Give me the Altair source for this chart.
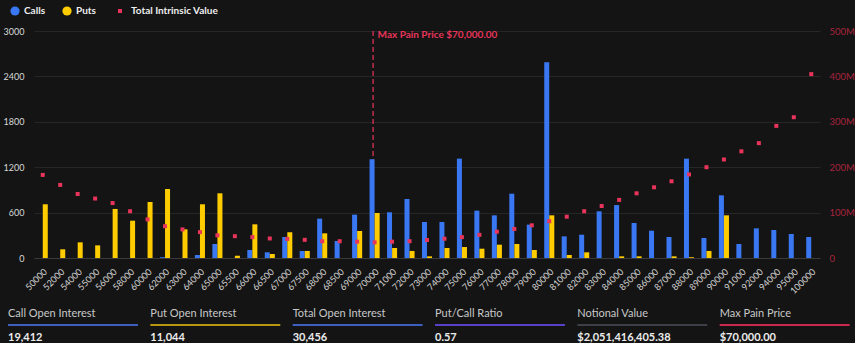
import altair as alt
import pandas as pd

FONT = "Lato"

strikes = ["50000", "52000", "54000", "55000", "56000", "58000", "60000", "62000", "63000", "64000",
           "65000", "65500", "66000", "66500", "67000", "67500", "68000", "68500", "69000", "70000",
           "71000", "72000", "73000", "74000", "75000", "76000", "77000", "78000", "79000", "80000",
           "81000", "82000", "83000", "84000", "85000", "86000", "87000", "88000", "89000", "90000",
           "91000", "92000", "94000", "95000", "100000"]
calls = [0, 0, 0, 0, 0, 0, 0, 10, 0, 40,
         185, 0, 106, 75, 278, 93, 520, 225, 573, 1305,
         604, 780, 476, 476, 1313, 626, 564, 850, 441, 2587,
         286, 308, 617, 700, 463, 361, 278, 1313, 264, 828,
         185, 392, 370, 317, 278]
puts = [710, 115, 207, 167, 648, 493, 740, 912, 379, 710,
        855, 30, 445, 53, 340, 93, 326, 0, 357, 595,
        132, 93, 22, 132, 145, 123, 176, 185, 106, 564,
        40, 75, 0, 22, 22, 0, 22, 10, 93, 564,
        0, 0, 0, 0, 0]
intrinsic_m = [183, 161, 141, 131, 121, 103, 85, 70, 63, 57,
               50, 48, 46, 43, 42, 40, 37, 37, 36, 34.5,
               36, 37, 39.6, 42.5, 46, 51, 58, 64, 72, 81,
               91, 103, 114.5, 128, 142.5, 155.7, 169, 184, 200, 217,
               235, 253, 291, 310, 405]

max_pain_strike = "70000"
max_pain_label = "Max Pain Price $70,000.00"

stat_labels = ["Call Open Interest", "Put Open Interest", "Total Open Interest",
               "Put/Call Ratio", "Notional Value", "Max Pain Price"]
stat_values = ["19,412", "11,044", "30,456", "0.57", "$2,051,416,405.38", "$70,000.00"]
stat_colors = ["#3d5fc0", "#b8960f", "#3d5fc0", "#5b41c9", "#3c3f46", "#c9294b"]

BLUE = "#3a77f2"
YELLOW = "#ffcc00"
RED = "#e8345a"

rows = []
for s, c, p in zip(strikes, calls, puts):
    rows.append({"strike": s, "type": "Calls", "oi": c})
    rows.append({"strike": s, "type": "Puts", "oi": p})
bar_df = pd.DataFrame(rows)
bar_df = bar_df[bar_df["oi"] > 0]

tiv_df = pd.DataFrame({"strike": strikes, "tiv": intrinsic_m,
                       "series": ["Total Intrinsic Value"] * len(strikes)})
mp_df = pd.DataFrame({"strike": [max_pain_strike], "label": [max_pain_label]})

x_scale = alt.Scale(domain=strikes, paddingInner=0.42, paddingOuter=0.21)
x_axis = alt.Axis(title=None, labelAngle=-45, labelFontSize=9, labelColor="#d4d4d4",
                  labelFont=FONT, ticks=False, domainColor="#3a3a3a", labelPadding=9,
                  labelOverlap=False)
X = alt.X("strike:N", scale=x_scale, axis=x_axis, sort=strikes)

rule = alt.Chart(mp_df).mark_rule(stroke=RED, color=RED, strokeDash=[5, 3],
                                  strokeWidth=1.2, xOffset=-1.5).encode(x=X)
mp_text = alt.Chart(mp_df).mark_text(align="left", baseline="middle", dx=3, font=FONT,
                                     fontSize=10, fontWeight="bold", color=RED).encode(
    x=X, y=alt.value(4), text="label:N")

bars = alt.Chart(bar_df).mark_bar(width=5).encode(
    x=X,
    xOffset=alt.XOffset("type:N", scale=alt.Scale(domain=["Calls", "Puts"])),
    y=alt.Y("oi:Q", scale=alt.Scale(domain=[0, 3000]),
            axis=alt.Axis(title=None, values=[0, 600, 1200, 1800, 2400, 3000], orient="left",
                          format="d", grid=True, gridColor="#262626", domain=False, ticks=False,
                          labelPadding=10, labelColor="#d8d8d8", labelFontSize=9, labelFont=FONT)),
    color=alt.Color("type:N", scale=alt.Scale(domain=["Calls", "Puts"], range=[BLUE, YELLOW]),
                    legend=alt.Legend(title=None, orient="none", legendX=-24, legendY=-25,
                                      direction="horizontal", symbolType="circle", symbolSize=85,
                                      symbolStrokeWidth=0, labelFont=FONT, labelFontSize=10,
                                      labelFontWeight="bold", labelColor="#eeeeee",
                                      columnPadding=16, labelOffset=4)),
)

points = alt.Chart(tiv_df).mark_square(size=16, opacity=1).encode(
    x=X,
    y=alt.Y("tiv:Q", scale=alt.Scale(domain=[0, 500]),
            axis=alt.Axis(title=None, orient="right", values=[0, 100, 200, 300, 400, 500],
                          labelExpr="datum.value == 0 ? '0' : datum.value + 'M'",
                          grid=False, domain=False, ticks=False, labelPadding=9,
                          labelColor="#a8243e", labelFontSize=9.5, labelFont=FONT)),
    color=alt.Color("series:N", scale=alt.Scale(domain=["Total Intrinsic Value"], range=[RED]),
                    legend=alt.Legend(title=None, orient="none", legendX=81, legendY=-25,
                                      direction="horizontal", symbolType="square", symbolSize=16,
                                      symbolStrokeWidth=0, labelFont=FONT, labelFontSize=10,
                                      labelFontWeight="bold", labelColor="#eeeeee", labelOffset=6)),
)

main = alt.layer(rule, bars, points, mp_text).resolve_scale(
    y="independent", color="independent").properties(width=786, height=227)

stats_df = pd.DataFrame({
    "i": list(range(6)),
    "i2": [i + 0.913 for i in range(6)],
    "label": stat_labels,
    "value": stat_values,
    "color": stat_colors,
    "r_label": [0] * 6,
    "r_line": [11] * 6,
    "r_value": [23.5] * 6,
})
SX = alt.Scale(domain=[0, 6], range=[-26, 828])
SY = alt.Scale(domain=[0, 23.5], range=[0, 23.5])
sbase = alt.Chart(stats_df)
s_labels = sbase.mark_text(align="left", baseline="middle", font=FONT, fontSize=11,
                           color="#c8c8c8").encode(
    x=alt.X("i:Q", scale=SX, axis=None), y=alt.Y("r_label:Q", scale=SY, axis=None), text="label:N")
s_lines = sbase.mark_rule(strokeWidth=2).encode(
    x=alt.X("i:Q", scale=SX, axis=None), x2="i2:Q",
    y=alt.Y("r_line:Q", scale=SY, axis=None), color=alt.Color("color:N", scale=None))
s_values = sbase.mark_text(align="left", baseline="middle", font=FONT, fontSize=11,
                           fontWeight="bold", color="#ececec").encode(
    x=alt.X("i:Q", scale=SX, axis=None), y=alt.Y("r_value:Q", scale=SY, axis=None), text="value:N")
stats = alt.layer(s_labels, s_lines, s_values).properties(width=786, height=23.5)

chart = alt.vconcat(main, stats, spacing=12).properties(
    background="#141414",
    padding={"left": 3, "top": 6, "right": 0, "bottom": 0},
).configure_view(stroke=None)

chart.save("out.html", embed_options={"renderer": "svg", "actions": False})
